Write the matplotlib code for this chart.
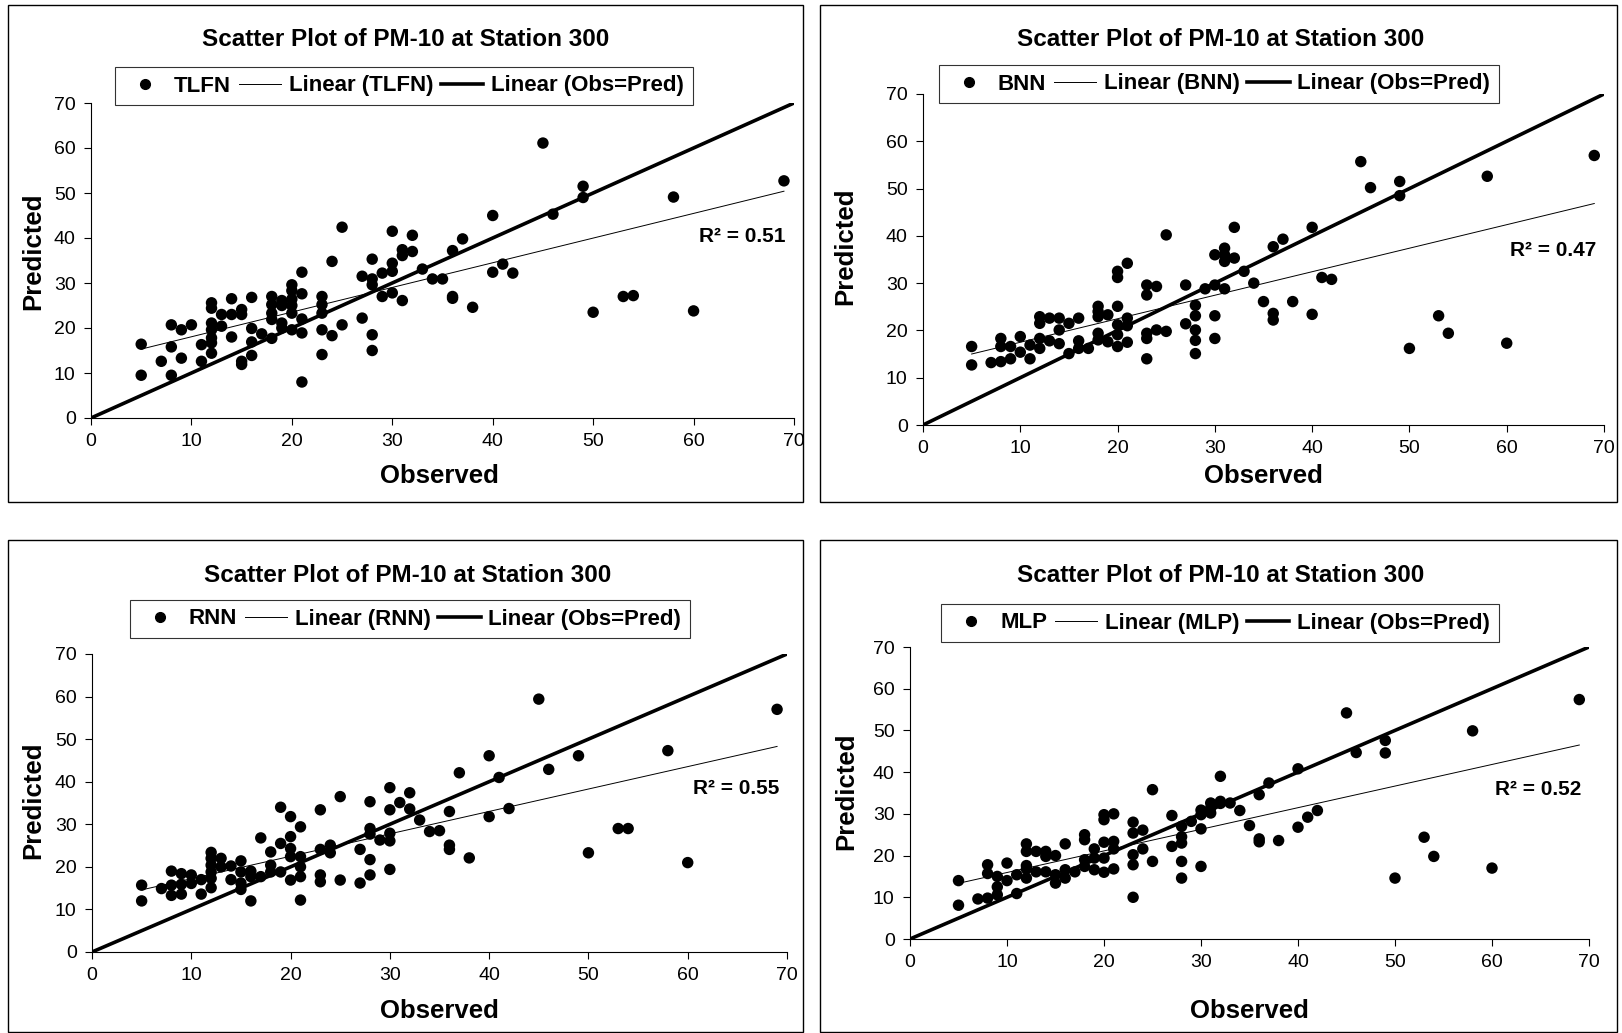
import numpy as np
import matplotlib
matplotlib.use("Agg")
import matplotlib.pyplot as plt
from matplotlib.lines import Line2D
from matplotlib.patches import Rectangle

plt.rcParams['font.family'] = ['Liberation Sans', 'DejaVu Sans']

W, H = 1622, 1033

# observed / predicted PM-10 for each model
tlfn_obs = [5, 5, 7, 8, 8, 8, 9, 9, 10, 11, 11,
            12, 12, 12, 12, 12, 12, 12, 13, 13, 14, 14, 14, 15, 15, 15, 15,
            16, 16, 16, 16, 17, 18, 18, 18, 18, 18, 19, 19, 19, 19,
            20, 20, 20, 20, 20, 20, 21, 21, 21, 21, 21, 23, 23, 23, 23, 23,
            24, 24, 25, 25, 27, 27, 28, 28, 28, 28, 28, 29, 29,
            30, 30, 30, 30, 31, 31, 31, 32, 32, 33, 34, 35, 36, 36, 36, 37, 38,
            40, 40, 41, 42, 45, 46, 49, 49, 50, 53, 54, 58, 60, 69]
tlfn_pred = [16.4, 9.5, 12.6, 20.7, 15.8, 9.5, 19.6, 13.3, 20.7, 16.3, 12.6,
             25.6, 24.4, 21.1, 19.6, 17.8, 16.7, 14.4, 23, 20.4, 26.5, 23, 18, 24.1, 23, 12.6, 11.9,
             26.8, 19.9, 16.9, 13.9, 18.7, 27, 25.2, 23.3, 21.9, 17.7, 26.1, 25, 21.1, 20,
             29.6, 28.3, 26.4, 25, 23.3, 19.6, 32.4, 27.6, 22, 18.9, 8, 27, 25.2, 23.3, 19.6, 14.1,
             34.8, 18.3, 42.4, 20.7, 31.5, 22.2, 35.3, 30.9, 29.6, 18.5, 15, 32.2, 27,
             41.5, 34.4, 32.6, 27.8, 37.4, 36.1, 26.1, 40.6, 37, 33.1, 30.9, 30.9, 37.2, 27, 26.6, 39.8, 24.6,
             32.4, 45, 34.2, 32.2, 61.1, 45.3, 51.5, 49, 23.5, 27, 27.2, 49.1, 23.8, 52.7]

bnn_obs = [5, 5, 7, 8, 8, 8, 9, 9, 10, 10, 11, 11,
           12, 12, 12, 12, 13, 13, 14, 14, 14, 15, 15, 16, 16, 16, 17,
           18, 18, 18, 18, 18, 19, 19, 20, 20, 20, 20, 20, 20, 21, 21, 21, 21,
           23, 23, 23, 23, 23, 24, 24, 25, 25, 27, 27, 28, 28, 28, 28, 28, 29,
           30, 30, 30, 30, 31, 31, 31, 31, 32, 32, 33, 34, 35, 36, 36, 36, 37, 38,
           40, 40, 41, 42, 45, 46, 49, 49, 50, 53, 54, 58, 60, 69]
bnn_pred = [16.6, 12.7, 13.2, 18.3, 16.6, 13.4, 16.6, 14, 18.7, 15.4, 16.9, 14,
            22.9, 21.5, 18.3, 16.2, 22.6, 17.8, 22.6, 20.1, 17.2, 21.5, 15.1, 22.6, 17.8, 16.2, 16.2,
            25.1, 24, 22.9, 19.4, 18, 23.3, 17.6, 21.2, 32.5, 31.2, 25.1, 19.1, 16.6, 34.2, 22.6, 21, 17.5,
            29.6, 27.5, 19.4, 18.3, 14, 29.3, 20.1, 40.2, 19.8, 29.6, 21.4, 25.3, 23.1, 20.1, 17.9, 15.1, 28.8,
            36, 23.1, 18.3, 29.6, 28.8, 36, 37.4, 34.6, 35.3, 41.8, 32.5, 30, 26.1, 37.7, 23.6, 22.2, 39.3, 26.1,
            23.4, 41.8, 31.2, 30.8, 55.7, 50.2, 51.5, 48.5, 16.2, 23.1, 19.4, 52.6, 17.3, 57]

rnn_obs = [5, 5, 7, 8, 8, 8, 9, 9, 9, 10, 10, 11, 11,
           12, 12, 12, 12, 12, 12, 13, 13, 14, 14, 15, 15, 15, 15, 16, 16, 16, 17, 17,
           18, 18, 18, 19, 19, 19, 20, 20, 20, 20, 20, 21, 21, 21, 21, 21,
           23, 23, 23, 23, 24, 24, 25, 25, 27, 27, 28, 28, 28, 28, 28, 29,
           30, 30, 30, 30, 30, 31, 32, 32, 33, 34, 35, 36, 36, 36, 37, 38,
           40, 40, 41, 42, 45, 46, 49, 50, 53, 54, 58, 60, 69]
rnn_pred = [15.7, 12, 14.9, 19, 15.7, 13.3, 18.4, 15.9, 13.6, 18.1, 16.1, 17, 13.6,
            23.4, 22, 20.4, 18.8, 17.3, 15.1, 22, 20, 20.2, 17, 21.4, 18.8, 16.2, 14.7, 19, 17.7, 12, 26.8, 17.7,
            23.5, 20.4, 18.8, 34, 25.5, 18.8, 31.8, 27.1, 24.3, 22.4, 16.9, 29.4, 22.4, 20, 17.7, 12.2,
            33.4, 24.1, 18.1, 16.5, 25.1, 23.3, 36.5, 16.9, 24.1, 16.2, 35.3, 29, 27.7, 21.7, 18.1, 26.3,
            38.6, 19.4, 33.4, 27.9, 26.1, 35.1, 37.4, 33.6, 31, 28.3, 28.5, 33, 25.1, 24.1, 42.1, 22.1,
            31.8, 46.1, 41, 33.7, 59.4, 42.9, 46.1, 23.3, 29, 29, 47.3, 21, 57]

mlp_obs = [5, 5, 7, 8, 8, 8, 9, 9, 9, 10, 10, 11, 11,
           12, 12, 12, 12, 12, 13, 13, 14, 14, 14, 15, 15, 15, 16, 16, 16, 17,
           18, 18, 18, 18, 19, 19, 19, 20, 20, 20, 20, 20, 21, 21, 21, 21,
           23, 23, 23, 23, 23, 24, 24, 25, 25, 27, 27, 28, 28, 28, 28, 28, 29,
           30, 30, 30, 30, 31, 31, 31, 32, 32, 32, 33, 34, 35, 36, 36, 36, 37, 38,
           40, 40, 41, 42, 45, 46, 49, 49, 50, 53, 54, 58, 60, 69]
mlp_pred = [14, 8.1, 9.6, 17.8, 15.7, 9.8, 15, 12.5, 10.6, 18.2, 14, 15.4, 10.9,
            22.8, 21, 17.6, 16.8, 14.6, 21, 16.1, 21, 19.8, 16.1, 20, 15.4, 13.4, 22.8, 16.6, 14.6, 16.1,
            25, 23.8, 19, 17.4, 21.6, 16.6, 19.4, 29.8, 28.6, 23.2, 19.4, 16, 30, 23.4, 21.6, 16.8,
            28, 25.4, 20.2, 17.8, 10, 26.1, 21.6, 35.8, 18.6, 29.6, 22.2, 27, 24.5, 23, 18.6, 14.6, 28.2,
            30.9, 26.4, 17.4, 29.8, 31.4, 32.6, 30.2, 33, 39, 32.5, 32.6, 30.8, 27.2, 34.6, 24, 23.3, 37.4, 23.6,
            26.8, 40.8, 29.2, 30.8, 54.2, 44.7, 47.6, 44.6, 14.6, 24.4, 19.8, 49.9, 17, 57.4]

models = ['TLFN', 'BNN', 'RNN', 'MLP']
r2_labels = ['0.51', '0.47', '0.55', '0.52']
r2_y = [40.4, 37, 38.5, 35.8]
obs_sets = [tlfn_obs, bnn_obs, rnn_obs, mlp_obs]
pred_sets = [tlfn_pred, bnn_pred, rnn_pred, mlp_pred]
ticks = np.arange(0, 71, 10)

# pixel layout: plot box (left, top, right, bottom), chart frame, title/legend/label anchors
plot_px = [(91, 103, 794, 418), (923, 94, 1604, 425), (92, 654, 787, 952), (910, 647, 1589, 939)]
frame_px = [(8, 5, 803, 502), (820, 5, 1617, 502), (8, 540, 803, 1032), (820, 540, 1617, 1032)]
title_px = [(406, 39), (1221, 39), (408, 575), (1221, 575)]
legend_px = [(404, 86), (1219, 84), (410, 619), (1220, 623)]
ylab_px = [(33, 251), (845, 246), (33, 800), (846, 791)]
xlab_px = [(439, 476), (1263, 476), (439, 1011), (1249, 1011)]


def fx(px):
    return px / W


def fy(py):
    return 1 - py / H


fig = plt.figure(figsize=(W / 100, H / 100), dpi=100)
fig.patch.set_facecolor('white')

for i, name in enumerate(models):
    obs = np.array(obs_sets[i], dtype=float)
    pred = np.array(pred_sets[i], dtype=float)
    l, t, r, b = plot_px[i]
    ax = fig.add_axes([fx(l), fy(b), fx(r) - fx(l), fy(t) - fy(b)])

    ax.scatter(obs, pred, s=68, c='black', edgecolors='none', zorder=3, clip_on=False)
    k, c0 = np.polyfit(obs, pred, 1)
    xs = np.array([obs.min(), obs.max()])
    ax.plot(xs, k * xs + c0, color='black', lw=0.7, zorder=2)
    ax.plot([0, 70], [0, 70], color='black', lw=2.6, zorder=2, solid_capstyle='butt')

    ax.set_xlim(0, 70)
    ax.set_ylim(0, 70)
    ax.set_xticks(ticks)
    ax.set_yticks(ticks)
    ax.tick_params(direction='out', length=5, width=0.8, labelsize=14, pad=6)
    for side in ['top', 'right']:
        ax.spines[side].set_visible(False)
    for side in ['left', 'bottom']:
        ax.spines[side].set_linewidth(0.8)

    ax.text(69.2, r2_y[i], 'R² = ' + r2_labels[i], ha='right', va='center',
            fontsize=15, fontweight='bold')

    handles = [
        Line2D([], [], ls='none', marker='o', color='black', markersize=7),
        Line2D([], [], color='black', lw=0.7),
        Line2D([], [], color='black', lw=2.6),
    ]
    labels = [name, 'Linear (%s)' % name, 'Linear (Obs=Pred)']
    lx, ly = legend_px[i]
    leg = fig.legend(handles, labels, loc='center', bbox_to_anchor=(fx(lx), fy(ly)),
                     ncol=3, frameon=True, fancybox=False, edgecolor='black',
                     prop={'size': 16, 'weight': 'bold'}, handlelength=1.9,
                     handletextpad=0.35, columnspacing=0.35, borderpad=0.4,
                     borderaxespad=0)
    leg.get_frame().set_linewidth(0.8)

    tx, ty = title_px[i]
    fig.text(fx(tx), fy(ty), 'Scatter Plot of PM-10 at Station 300', ha='center', va='center',
             fontsize=17.5, fontweight='bold')
    yx, yy = ylab_px[i]
    fig.text(fx(yx), fy(yy), 'Predicted', ha='center', va='center', rotation=90,
             fontsize=18.5, fontweight='bold')
    xx, xy = xlab_px[i]
    fig.text(fx(xx), fy(xy), 'Observed', ha='center', va='center',
             fontsize=18.5, fontweight='bold')

    x0, y0, x1, y1 = frame_px[i]
    fig.add_artist(Rectangle((fx(x0), fy(y1)), fx(x1) - fx(x0), fy(y0) - fy(y1),
                             transform=fig.transFigure, fill=False, lw=1.0, ec='black'))

fig.savefig('out.png', dpi=100)
